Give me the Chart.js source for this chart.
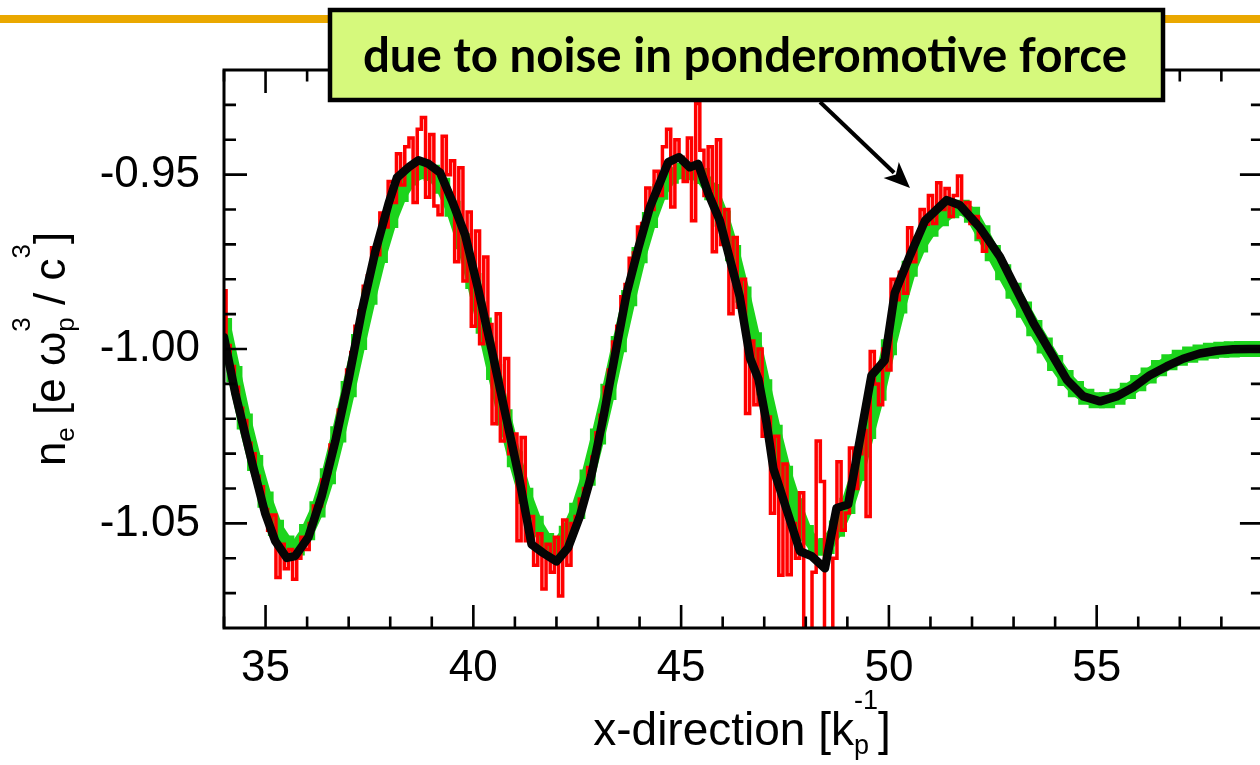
<!DOCTYPE html>
<html><head><meta charset="utf-8">
<script src="https://cdn.jsdelivr.net/npm/chart.js@4.4.1/dist/chart.umd.min.js"></script>
<style>html,body{margin:0;padding:0;background:#fff;overflow:hidden}#wrap{position:relative;width:1260px;height:765px}canvas{display:block}</style>
</head><body><div id="wrap"><canvas id="c" width="1260" height="765"></canvas></div>
<script>
// ---------- data ----------
const xTickValues = [35, 40, 45, 50, 55];
const xTickLabels = ['35', '40', '45', '50', '55'];
const xMinorTicks = [34, 36, 37, 38, 39, 41, 42, 43, 44, 46, 47, 48, 49, 51, 52, 53, 54, 56, 57, 58];
const yTickValues = [-1.05, -1.00, -0.95];
const yTickLabels = ['-1.05', '-1.00', '-0.95'];
const yMinorTicks = [-1.07, -1.06, -1.04, -1.03, -1.02, -1.01, -0.99, -0.98, -0.97, -0.96, -0.94, -0.93];
const xTitleParts = [{t: 'x-direction [k'}, {sub: 'p', sup: '-1'}, {t: ']'}];
const yTitleParts = [{t: 'n'}, {sub: 'e'}, {t: ' [e \u03c9'}, {sub: 'p', sup: '3'}, {t: ' / c'}, {sup: '3'}, {t: ']'}];
const noteText = 'due to noise in ponderomotive force';

// theory (green)
const greenX = [34,34.25,34.5,34.75,35,35.25,35.5,35.75,36,36.25,36.5,36.75,37,37.25,37.5,37.75,38,38.25,38.5,38.75,
39,39.25,39.5,39.75,40,40.25,40.5,40.75,41,41.25,41.5,41.75,42,42.25,42.5,42.75,43,43.25,43.5,43.75,
44,44.25,44.5,44.75,45,45.25,45.5,45.75,46,46.25,46.5,46.75,47,47.25,47.5,47.75,48,48.25,48.5,48.75,
49,49.25,49.5,49.75,50,50.25,50.5,50.75,51,51.25,51.5,51.75,52,52.25,52.5,52.75,53,53.25,53.5,53.75,
54,54.25,54.5,54.75,55,55.25,55.5,55.75,56,56.25,56.5,56.75,57,57.25,57.5,57.75,58,58.25,58.5,58.75,59];
const greenY = [-0.9934,-1.0072,-1.0208,-1.0327,-1.0432,-1.0513,-1.0558,-1.0569,-1.0525,-1.0460,-1.0365,-1.0245,-1.0115,-0.9980,-0.9850,-0.9730,-0.9630,-0.9555,-0.9508,-0.9490,
-0.9495,-0.9532,-0.9598,-0.9691,-0.9805,-0.9933,-1.0066,-1.0196,-1.0316,-1.0421,-1.0501,-1.0551,-1.0570,-1.0530,-1.0464,-1.0369,-1.0251,-1.0123,-0.9986,-0.9854,
-0.9731,-0.9630,-0.9549,-0.9503,-0.9490,-0.9493,-0.9504,-0.9550,-0.9626,-0.9725,-0.9844,-0.9975,-1.0110,-1.0240,-1.0358,-1.0451,-1.0528,-1.0570,-1.0565,-1.0515,
-1.0450,-1.0355,-1.0235,-1.0125,-0.9995,-0.9875,-0.9770,-0.9700,-0.9655,-0.9625,-0.9602,-0.9595,-0.9615,-0.9668,-0.9725,-0.9780,-0.9833,-0.9887,-0.9940,-0.9990,
-1.0040,-1.0083,-1.0115,-1.0137,-1.0147,-1.0147,-1.0137,-1.0120,-1.0098,-1.0076,-1.0055,-1.0038,-1.0025,-1.0016,-1.0010,-1.0005,-1.0002,-1.0001,-1.0000,-1.0000,-1.0000];

// simulation (red), noisy part
const redX = [34,34.1,34.2,34.3,34.4,34.5,34.6,34.7,34.8,34.9,35,35.1,35.2,35.3,35.4,35.5,35.6,35.7,35.8,35.9,
36,36.1,36.2,36.3,36.4,36.5,36.6,36.7,36.8,36.9,37,37.1,37.2,37.3,37.4,37.5,37.6,37.7,37.8,37.9,
38,38.1,38.2,38.3,38.4,38.5,38.6,38.7,38.8,38.9,39,39.1,39.2,39.3,39.4,39.5,39.6,39.7,39.8,39.9,
40,40.1,40.2,40.3,40.4,40.5,40.6,40.7,40.8,40.9,41,41.1,41.2,41.3,41.4,41.5,41.6,41.7,41.8,41.9,
42,42.1,42.2,42.3,42.4,42.5,42.6,42.7,42.8,42.9,43,43.1,43.2,43.3,43.4,43.5,43.6,43.7,43.8,43.9,
44,44.1,44.2,44.3,44.4,44.5,44.6,44.7,44.8,44.9,45,45.1,45.2,45.3,45.4,45.5,45.6,45.7,45.8,45.9,
46,46.1,46.2,46.3,46.4,46.5,46.6,46.7,46.8,46.9,47,47.1,47.2,47.3,47.4,47.5,47.6,47.7,47.8,47.9,
48,48.1,48.2,48.3,48.4,48.5,48.6,48.7,48.8,48.9,49,49.1,49.2,49.3,49.4,49.5,49.6,49.7,49.8,49.9,
50,50.1,50.2,50.3,50.4,50.5,50.6,50.7,50.8,50.9,51,51.1,51.2,51.3,51.4,51.5,51.6,51.7,51.8,51.9,
52,52.1,52.2,52.3,52.4];
const redY = [-0.9833,-0.9990,-1.0050,-1.0110,-1.0170,-1.0205,-1.0270,-1.0300,-1.0365,-1.0395,
-1.0460,-1.0520,-1.0476,-1.0655,-1.0560,-1.0630,-1.0575,-1.0660,-1.0600,-1.0540,
-1.0575,-1.0500,-1.0450,-1.0450,-1.0375,-1.0355,-1.0275,-1.0250,-1.0175,-1.0140,
-1.0060,-1.0010,-0.9935,-0.9890,-0.9820,-0.9790,-0.9710,-0.9730,-0.9610,-0.9650,
-0.9520,-0.9580,-0.9440,-0.9530,-0.9420,-0.9395,-0.9580,-0.9370,-0.9336,-0.9565,
-0.9385,-0.9590,-0.9615,-0.9390,-0.9500,-0.9460,-0.9750,-0.9480,-0.9805,-0.9607,
-0.9935,-0.9662,-0.9985,-0.9736,-0.9930,-1.0214,-0.9899,-1.0264,-1.0027,-1.0300,
-1.0244,-1.0550,-1.0254,-1.0550,-1.0480,-1.0620,-1.0530,-1.0688,-1.0560,-1.0640,
-1.0540,-1.0708,-1.0490,-1.0620,-1.0500,-1.0480,-1.0430,-1.0400,-1.0340,-1.0310,
-1.0240,-1.0190,-1.0110,-1.0060,-0.9980,-0.9935,-0.9850,-0.9815,-0.9740,-0.9725,
-0.9650,-0.9640,-0.9538,-0.9600,-0.9490,-0.9560,-0.9420,-0.9370,-0.9593,-0.9400,
-0.9450,-0.9520,-0.9395,-0.9632,-0.9296,-0.9430,-0.9560,-0.9420,-0.9721,-0.9400,
-0.9700,-0.9600,-0.9899,-0.9680,-0.9880,-0.9800,-1.0185,-0.9977,-1.0160,-1.0000,
-1.0250,-1.0195,-1.0471,-1.0250,-1.0649,-1.0330,-1.0647,-1.0500,-1.0600,-1.0412,
-1.0860,-1.0920,-1.0640,-1.0264,-1.0380,-1.0900,-1.0950,-1.0600,-1.0323,-1.0520,
-1.0470,-1.0284,-1.0400,-1.0300,-1.0234,-1.0480,-1.0007,-1.0100,-1.0160,-1.0000,
-1.0060,-0.9800,-0.9859,-0.9780,-0.9840,-0.9652,-0.9750,-0.9680,-0.9600,-0.9642,
-0.9560,-0.9640,-0.9523,-0.9600,-0.9540,-0.9620,-0.9560,-0.9504,-0.9600,-0.9580,
-0.9640,-0.9620,-0.9680,-0.9720,-0.9690];
// simulation (red), quiet tail
const redTailX = [52.4,52.6,53,53.5,54,54.5,55,55.5,56,56.5,57,57.5,58,58.5,59];
const redTailY = [-0.9690,-0.9720,-0.9814,-0.9930,-1.0035,-1.0115,-1.0148,-1.0135,-1.0100,-1.0061,-1.0032,-1.0013,-1.0004,-1.0000,-1.0000];

// smoothed (black)
const blackX = [34.00,34.27,34.67,34.99,35.23,35.51,35.71,36.03,36.35,36.68,37.00,37.32,37.64,37.96,38.16,38.44,38.68,38.92,39.20,39.48,
39.80,40.12,40.45,40.77,41.09,41.40,41.68,42.00,42.28,42.56,42.84,43.13,43.41,43.69,43.97,44.25,44.49,44.69,44.95,45.21,
45.41,45.65,45.93,46.17,46.41,46.66,46.86,47.06,47.22,47.54,47.86,48.14,48.46,48.74,49.02,49.58,49.90,50.14,50.51,50.87,
51.39,51.71,52.19,52.67,53.47,54.28,54.68,55.08,55.48,55.88,56.28,56.68,57.08,57.48,57.88,58.28,58.68,59.00];
const blackY = [-0.9966,-1.0126,-1.0323,-1.0471,-1.0550,-1.0599,-1.0594,-1.0540,-1.0422,-1.0264,-1.0086,-0.9889,-0.9721,-0.9583,-0.9509,-0.9479,-0.9459,-0.9469,-0.9494,-0.9573,
-0.9672,-0.9830,-1.0007,-1.0185,-1.0362,-1.0560,-1.0585,-1.0609,-1.0570,-1.0481,-1.0362,-1.0195,-1.0017,-0.9840,-0.9711,-0.9593,-0.9523,-0.9464,-0.9450,-0.9479,
-0.9469,-0.9553,-0.9632,-0.9741,-0.9849,-1.0027,-1.0086,-1.0214,-1.0343,-1.0461,-1.0580,-1.0594,-1.0629,-1.0456,-1.0446,-1.0076,-1.0032,-0.9840,-0.9731,-0.9632,
-0.9573,-0.9588,-0.9652,-0.9735,-0.9924,-1.0088,-1.0136,-1.0150,-1.0136,-1.0110,-1.0075,-1.0050,-1.0028,-1.0013,-1.0005,-1.0001,-1.0000,-1.0000];

// ---------- drawing ----------
const FONT = "'Liberation Sans', Arial, Helvetica, sans-serif";
const toPts = (xs, ys) => xs.map((x, i) => ({x: x, y: ys[i]}));

function richWidth(ctx, parts, big, small) {
  let w = 0;
  for (const p of parts) {
    if (p.t !== undefined) { ctx.font = big; w += ctx.measureText(p.t).width; }
    else {
      ctx.font = small;
      w += Math.max(p.sub ? ctx.measureText(p.sub).width : 0, p.sup ? ctx.measureText(p.sup).width : 0);
    }
  }
  return w;
}
function drawRich(ctx, parts, x0, y0, big, small, subDy, supDy) {
  let x = x0;
  for (const p of parts) {
    if (p.t !== undefined) { ctx.font = big; ctx.fillText(p.t, x, y0); x += ctx.measureText(p.t).width; }
    else {
      ctx.font = small; let w = 0;
      if (p.sub) { ctx.fillText(p.sub, x, y0 + subDy); w = Math.max(w, ctx.measureText(p.sub).width); }
      if (p.sup) { ctx.fillText(p.sup, x, y0 + supDy); w = Math.max(w, ctx.measureText(p.sup).width); }
      x += w;
    }
  }
}

const decor = {
  id: 'decor',
  afterDatasetsDraw(chart) {
    const {ctx, chartArea: a, scales: {x, y}} = chart;
    const xr = x.getPixelForValue(59);
    ctx.save();
    // frame
    ctx.strokeStyle = '#000'; ctx.lineWidth = 3; ctx.lineCap = 'butt';
    ctx.beginPath();
    ctx.moveTo(xr, a.top); ctx.lineTo(a.left, a.top); ctx.lineTo(a.left, a.bottom); ctx.lineTo(xr, a.bottom); ctx.lineTo(xr, a.top);
    ctx.stroke();
    // ticks
    ctx.lineWidth = 2.6;
    ctx.beginPath();
    for (const v of xTickValues) { const p = x.getPixelForValue(v); ctx.moveTo(p, a.bottom); ctx.lineTo(p, a.bottom - 23); ctx.moveTo(p, a.top); ctx.lineTo(p, a.top + 23); }
    for (const v of xMinorTicks) { const p = x.getPixelForValue(v); ctx.moveTo(p, a.bottom); ctx.lineTo(p, a.bottom - 11.5); ctx.moveTo(p, a.top); ctx.lineTo(p, a.top + 11.5); }
    for (const v of yTickValues) { const p = y.getPixelForValue(v); ctx.moveTo(a.left, p); ctx.lineTo(a.left + 23, p); ctx.moveTo(xr, p); ctx.lineTo(xr - 23, p); }
    for (const v of yMinorTicks) { const p = y.getPixelForValue(v); ctx.moveTo(a.left, p); ctx.lineTo(a.left + 12, p); ctx.moveTo(xr, p); ctx.lineTo(xr - 12, p); }
    ctx.stroke();

    // axis titles
    ctx.fillStyle = '#000'; ctx.textAlign = 'left'; ctx.textBaseline = 'alphabetic';
    const bigX = '46px ' + FONT, smallX = '27px ' + FONT;
    const wx = richWidth(ctx, xTitleParts, bigX, smallX);
    drawRich(ctx, xTitleParts, 742 - wx / 2, 745, bigX, smallX, 9, -36);
    const big = '44px ' + FONT, small = '26px ' + FONT;
    const wy = richWidth(ctx, yTitleParts, big, small);
    ctx.save();
    ctx.translate(65, (a.top + a.bottom) / 2);
    ctx.rotate(-Math.PI / 2);
    drawRich(ctx, yTitleParts, -wy / 2, 0, big, small, 9, -35);
    ctx.restore();

    // orange rule
    ctx.strokeStyle = '#eaa800'; ctx.lineWidth = 8;
    ctx.beginPath(); ctx.moveTo(0, 19); ctx.lineTo(1260, 19); ctx.stroke();

    // note box
    ctx.fillStyle = '#d6f97c';
    ctx.fillRect(328, 8, 837, 94);
    ctx.strokeStyle = '#000'; ctx.lineWidth = 4.5;
    ctx.strokeRect(330, 10, 833, 90);
    ctx.fillStyle = '#000';
    let fs = 44;
    ctx.font = 'bold ' + fs + 'px Lato, "Open Sans", sans-serif';
    const tw = ctx.measureText(noteText).width;
    fs = Math.min(48, fs * 764 / tw);
    ctx.font = 'bold ' + fs.toFixed(1) + 'px Lato, "Open Sans", sans-serif';
    ctx.textAlign = 'center';
    ctx.fillText(noteText, 745, 72);

    // arrow
    const x1 = 820, y1 = 102, x2 = 910, y2 = 188;
    const ang = Math.atan2(y2 - y1, x2 - x1);
    const hl = 26, hw = 11;
    ctx.strokeStyle = '#000'; ctx.lineWidth = 4;
    ctx.beginPath(); ctx.moveTo(x1, y1);
    ctx.lineTo(x2 - Math.cos(ang) * (hl - 4), y2 - Math.sin(ang) * (hl - 4)); ctx.stroke();
    ctx.beginPath();
    ctx.moveTo(x2, y2);
    ctx.lineTo(x2 - Math.cos(ang) * hl + Math.sin(ang) * hw, y2 - Math.sin(ang) * hl - Math.cos(ang) * hw);
    ctx.lineTo(x2 - Math.cos(ang) * hl * 0.75, y2 - Math.sin(ang) * hl * 0.75);
    ctx.lineTo(x2 - Math.cos(ang) * hl - Math.sin(ang) * hw, y2 - Math.sin(ang) * hl + Math.cos(ang) * hw);
    ctx.closePath(); ctx.fill();
    ctx.restore();
  }
};

new Chart(document.getElementById('c').getContext('2d'), {
  type: 'line',
  data: {
    datasets: [
      {label: 'smoothed', data: toPts(blackX, blackY), borderColor: '#050505', borderWidth: 8.5,
       pointRadius: 0, tension: 0, borderJoinStyle: 'round', borderCapStyle: 'round', order: 1},
      {label: 'simulation', data: toPts(redX, redY), borderColor: '#ff0000', borderWidth: 3.5,
       pointRadius: 0, tension: 0, stepped: 'middle', borderJoinStyle: 'miter', order: 2},
      {label: 'simulation tail', data: toPts(redTailX, redTailY), borderColor: '#ff0000', borderWidth: 3,
       pointRadius: 0, tension: 0, order: 2},
      {label: 'theory', data: toPts(greenX, greenY), borderColor: '#1cd41c', borderWidth: 14,
       pointStyle: 'rect', pointRadius: 10, pointBorderWidth: 2, pointBackgroundColor: '#1cd41c', pointBorderColor: '#1cd41c',
       tension: 0, order: 3}
    ]
  },
  options: {
    responsive: false, animation: false, devicePixelRatio: 1,
    layout: {autoPadding: false, padding: {left: 0, right: 0, top: 70, bottom: 0}},
    plugins: {legend: {display: false}, tooltip: {enabled: false}},
    events: [],
    scales: {
      x: {
        type: 'linear', min: 34, max: 58.93,
        grid: {display: false, drawTicks: false}, border: {display: false},
        afterBuildTicks: s => { s.ticks = xTickValues.map(v => ({value: v})); },
        afterFit: s => { s.height = 137; s.paddingLeft = 0; s.paddingRight = 0; },
        ticks: {autoSkip: false, maxRotation: 0, padding: 14, color: '#000',
          font: {family: FONT, size: 44},
          callback: v => { const i = xTickValues.indexOf(v); return i >= 0 ? xTickLabels[i] : ''; }}
      },
      y: {
        type: 'linear', min: -1.08, max: -0.92,
        grid: {display: false, drawTicks: false}, border: {display: false},
        afterBuildTicks: s => { s.ticks = yTickValues.map(v => ({value: v})); },
        afterFit: s => { s.width = 224; s.paddingTop = 0; s.paddingBottom = 0; },
        ticks: {autoSkip: false, padding: 24, color: '#000',
          font: {family: FONT, size: 44},
          callback: v => { const i = yTickValues.indexOf(v); return i >= 0 ? yTickLabels[i] : ''; }}
      }
    }
  },
  plugins: [decor]
});
</script>
</body></html>
